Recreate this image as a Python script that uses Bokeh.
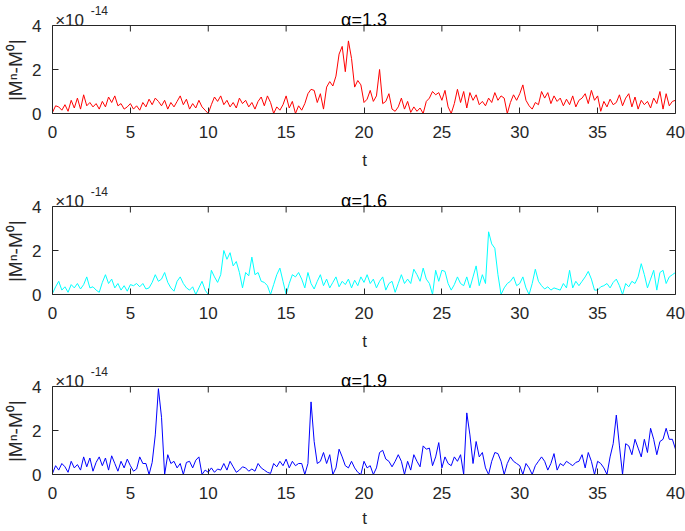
from bokeh.plotting import figure
from bokeh.models import Range1d, FixedTicker, Label
from bokeh.layouts import column
from bokeh.embed import file_html
from bokeh.resources import INLINE

# time grid (step 0.2 from 0 to 40)
t = [round(i * 0.2, 1) for i in range(201)]

# |M^n - M^0| in units of 1e-14
alpha_13 = [
    0.05, 0.35, 0.3, 0.15, 0.4,
    0.1, 0.6, 0.25, 0.7, 0.2,
    0.85, 0.35, 0.5, 0.3, 0.45,
    0.2, 0.55, 0.3, 0.75, 0.5,
    0.8, 0.35, 0.45, 0.2, 0.3,
    0.45, 0.2, 0.35, 0.15, 0.5,
    0.3, 0.65, 0.4, 0.7, 0.55,
    0.35, 0.6, 0.2, 0.5, 0.3,
    0.55, 0.8, 0.4, 0.65, 0.2,
    0.45, 0.25, 0.6, 0.3, 0.15,
    0.0, 0.4, 0.75, 0.55, 0.8,
    0.4, 0.6, 0.3, 0.5, 0.25,
    0.7, 0.45, 0.6, 0.3, 0.5,
    0.2, 0.55, 0.75, 0.35, 0.8,
    0.5, 0.0, 0.3, 0.15, 0.4,
    0.8, 0.25, 0.55, 0.0, 0.35,
    0.15, 0.45, 0.9, 1.1, 1.05,
    0.5, 0.9, 0.2, 1.2, 1.45,
    1.25, 1.7, 2.7, 3.05, 1.9,
    3.3, 2.5, 1.2, 1.5, 1.3,
    0.5, 0.65, 1.05, 0.55, 0.8,
    2.0, 0.45, 0.55, 0.9, 0.2,
    0.1, 0.3, 0.7, 0.2, 0.55,
    0.05, 0.3, 0.1, 0.25, 0.0,
    0.55, 0.7, 1.0, 0.85, 0.95,
    0.6, 1.05, 0.3, 0.0, 0.45,
    1.1, 0.5, 1.0, 0.25, 0.95,
    0.6, 0.85, 0.4, 0.55, 0.35,
    0.7, 0.5, 0.95, 0.6, 0.8,
    0.7, 0.0, 0.5, 0.85, 0.6,
    0.9, 1.3, 0.6, 0.35, 0.2,
    0.5, 0.4, 1.0, 0.7, 0.95,
    0.45, 0.8, 0.55, 0.7, 0.35,
    0.65, 0.4, 0.8, 0.3, 0.6,
    0.7, 0.9, 0.45, 1.05, 0.6,
    0.8, 0.1, 0.55, 0.3, 0.65,
    0.4, 0.5, 0.85, 0.35, 0.7,
    0.9, 0.3, 0.75, 0.2, 0.6,
    0.4, 0.55, 0.25, 0.7, 0.45,
    1.0, 0.2, 0.9, 0.35, 0.55,
    0.6,
]

alpha_16 = [
    0.05, 0.35, 0.6, 0.2, 0.35,
    0.1, 0.45, 0.3, 0.5, 0.25,
    0.45, 0.8, 0.3, 0.35, 0.2,
    0.1, 0.55, 0.9, 0.5, 0.7,
    0.3, 0.5, 0.2, 0.4, 0.15,
    0.45, 0.4, 0.5, 0.35, 0.5,
    0.25, 0.3, 0.55, 0.9, 0.6,
    0.7, 1.0, 0.55, 0.3, 0.15,
    0.6, 0.8, 0.5, 0.3, 0.2,
    0.35, 0.0, 0.3, 0.6, 0.2,
    0.0, 1.1, 0.8, 0.55, 0.9,
    2.0, 1.6, 1.9, 1.3, 1.5,
    1.0, 0.3, 1.0, 0.85, 1.7,
    0.9, 1.0, 0.6, 0.55, 0.4,
    0.0, 0.45, 0.9, 1.2, 0.6,
    0.0, 0.5, 0.9, 0.8, 1.0,
    0.7, 0.3, 1.0, 0.5, 0.25,
    0.6, 0.9, 0.4, 0.7, 0.3,
    0.55, 0.8, 0.35, 0.6, 0.45,
    0.7, 0.3, 0.65, 0.4, 0.8,
    0.55, 0.9, 0.5, 0.7, 0.3,
    0.6, 0.8, 0.2, 0.5, 0.6,
    0.1, 0.5, 0.9, 0.5, 0.7,
    0.5, 1.15, 0.9, 0.6, 1.2,
    0.7, 0.5, 0.0, 1.1, 0.6,
    1.1, 1.05, 0.5, 0.2, 0.45,
    0.8, 0.5, 0.4, 0.8, 0.3,
    0.8, 1.3, 0.4, 0.9, 0.5,
    2.85, 2.3, 2.1, 0.9, 0.0,
    0.3, 0.5, 0.6, 0.8, 0.4,
    0.5, 0.8, 0.3, 0.0, 0.5,
    1.15, 0.6, 0.4, 0.25, 0.35,
    0.2, 0.3, 0.25, 0.2, 0.5,
    0.3, 1.1, 0.3, 0.6, 0.4,
    0.6, 0.8, 1.05, 0.7, 0.2,
    0.2, 0.35, 0.4, 0.5, 0.3,
    0.55, 0.7, 0.4, 0.0, 0.5,
    0.35, 0.6, 0.5, 0.8, 1.4,
    0.9, 0.3, 0.7, 1.1, 0.2,
    1.0, 1.1, 0.5, 0.8, 0.9,
    1.0,
]

alpha_19 = [
    0.05, 0.4, 0.2, 0.5, 0.35,
    0.1, 0.6, 0.3, 0.45, 0.2,
    0.8, 0.35, 0.75, 0.15, 0.55,
    0.8, 0.4, 0.75, 0.2, 0.85,
    0.5, 0.15, 0.6, 0.3, 0.7,
    0.4, 0.15, 0.25, 0.8, 0.5,
    0.5, 0.0, 0.55, 1.8, 3.9,
    2.6, 0.0, 0.9, 0.5, 0.6,
    0.3, 0.5, 0.0, 0.55, 0.6,
    0.3, 0.65, 0.8, 0.0, 0.2,
    0.1, 0.3, 0.1, 0.25, 0.2,
    0.5, 0.2, 0.6, 0.35, 0.1,
    0.2, 0.35, 0.3, 0.15, 0.25,
    0.15, 0.5, 0.3, 0.2, 0.1,
    0.05, 0.5, 0.35, 0.6, 0.4,
    0.7, 0.3, 0.6, 0.4, 0.5,
    0.5, 0.0, 0.5, 3.3, 1.5,
    0.5, 0.6, 1.0, 0.5, 0.9,
    0.0, 0.3, 1.15, 0.8, 0.4,
    0.3, 0.6, 0.3, 0.1, 0.0,
    0.6, 0.3, 0.4, 0.0, 0.3,
    1.0, 1.1, 0.7, 0.6, 0.35,
    0.6, 0.9, 0.6, 0.0, 0.6,
    0.2, 0.9, 0.6, 0.35, 1.3,
    1.15, 1.2, 0.4, 0.8, 1.45,
    0.3, 0.8, 0.5, 0.4, 0.8,
    0.6, 0.9, 0.0, 2.8, 1.8,
    0.5, 1.5, 0.8, 1.0, 0.3,
    0.0, 0.6, 1.0, 0.95, 0.6,
    0.0, 0.5, 0.8, 0.6, 0.5,
    0.4, 0.0, 0.5, 0.3, 0.0,
    0.4, 0.6, 0.8, 0.6, 0.2,
    0.5, 0.95, 0.2, 0.5, 0.4,
    0.6, 0.5, 0.4, 0.55, 0.6,
    0.9, 0.3, 1.0, 0.6, 0.0,
    0.6, 0.5, 0.3, 0.0, 0.8,
    1.4, 2.7, 1.3, 0.0, 1.4,
    1.3, 0.9, 1.6, 1.2, 0.8,
    1.6, 1.0, 2.1, 1.6, 0.9,
    1.5, 1.6, 2.1, 1.6, 1.6,
    1.15,
]

titles = ["α=1.3", "α=1.6", "α=1.9"]
colors = ["#ff0000", "#00ffff", "#0000ff"]
series = [alpha_13, alpha_16, alpha_19]
x_ticks = [0, 5, 10, 15, 20, 25, 30, 35, 40]
y_ticks = [0, 2, 4]
x_label = "t"
y_label = "|Mⁿ-M⁰|"
exp_base = "×10"
exp_power = "-14"

FONT = "Liberation Sans"
AX = "#262626"

# layout (pixels)
PLOT_W = 623                # width of the 0..40 box
PLOT_H = 88                 # height of the 0..4 box
HEAD = 25                   # room above the box for title / exponent
PY = 4.0 / PLOT_H           # data units per pixel in y
PXU = 40.0 / PLOT_W         # data units per pixel in x
Y_TOP = 4 + HEAD * PY
TICK = 6
X0, X1 = x_ticks[0], x_ticks[-1]
Y0, Y1 = y_ticks[0], y_ticks[-1]


def style_axis(ax):
    ax.major_tick_in = TICK
    ax.major_tick_out = 0
    ax.minor_tick_line_color = None
    ax.axis_line_color = AX
    ax.major_tick_line_color = AX
    ax.major_label_text_color = AX
    ax.major_label_text_font = FONT
    ax.major_label_text_font_size = "17px"
    ax.axis_label_text_font = FONT
    ax.axis_label_text_font_style = "normal"
    ax.axis_label_text_color = AX


def make_panel(vals, color, title, bottom_b, t_standoff):
    p = figure(frame_width=PLOT_W + 1, frame_height=PLOT_H + HEAD,
               x_range=Range1d(X0, X1 + PXU), y_range=Range1d(Y0, Y_TOP),
               output_backend="svg", toolbar_location=None,
               min_border_left=52, min_border_right=9,
               min_border_top=0, min_border_bottom=bottom_b)
    p.title_location = None
    p.grid.visible = False
    p.outline_line_color = None
    p.background_fill_color = "white"
    p.border_fill_color = "white"

    p.line(t, vals, line_color=color, line_width=1)

    # top and right edges of the box
    p.line(x=[X0, X1], y=[Y1, Y1], line_color=AX, line_width=1)
    p.line(x=[X1, X1], y=[Y0, Y1], line_color=AX, line_width=1)
    # inward ticks on the top and right edges
    p.segment(x0=x_ticks, y0=[Y1] * len(x_ticks),
              x1=x_ticks, y1=[Y1 - TICK * PY] * len(x_ticks),
              line_color=AX, line_width=1)
    p.segment(x0=[X1] * len(y_ticks), y0=y_ticks,
              x1=[X1 - TICK * PXU] * len(y_ticks), y1=y_ticks,
              line_color=AX, line_width=1)

    xa = p.xaxis[0]
    xa.ticker = FixedTicker(ticks=x_ticks)
    xa.bounds = (X0, X1)
    style_axis(xa)
    xa.major_label_standoff = 12
    xa.axis_label = x_label
    xa.axis_label_text_font_size = "17px"
    xa.axis_label_standoff = t_standoff

    ya = p.yaxis[0]
    ya.ticker = FixedTicker(ticks=y_ticks)
    ya.bounds = (Y0, Y1)
    style_axis(ya)
    ya.major_label_standoff = 11
    # non-breaking spaces keep the label centred on the 0..4 box
    ya.axis_label = y_label + "\u00a0" * 5
    ya.axis_label_text_font_size = "19px"
    ya.axis_label_standoff = 3

    p.add_layout(Label(x=20, y=4 + 6 * PY, text=title, text_align="center",
                       text_baseline="alphabetic", text_font=FONT,
                       text_font_size="18px", text_color="#000000"))
    p.add_layout(Label(x=0.17, y=4 + 5 * PY, text=exp_base, text_align="left",
                       text_baseline="alphabetic", text_font=FONT,
                       text_font_size="17px", text_color=AX))
    p.add_layout(Label(x=2.45, y=4 + 15.5 * PY, text=exp_power, text_align="left",
                       text_baseline="alphabetic", text_font=FONT,
                       text_font_size="12px", text_color=AX))
    return p


p1 = make_panel(series[0], colors[0], titles[0], 68, 10)
p2 = make_panel(series[1], colors[1], titles[1], 67, 10)
p3 = make_panel(series[2], colors[2], titles[2], 57, 7)

p = column(p1, p2, p3, spacing=0)

open("out.html", "w").write(file_html(p, INLINE))
